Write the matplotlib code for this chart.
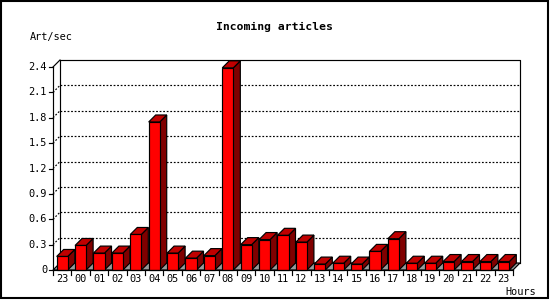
import matplotlib
matplotlib.use("Agg")
import matplotlib.pyplot as plt
from matplotlib.patches import Polygon, Rectangle

hours = ["23", "00", "01", "02", "03", "04", "05", "06", "07", "08", "09", "10",
         "11", "12", "13", "14", "15", "16", "17", "18", "19", "20", "21", "22", "23"]
rates = [0.16, 0.29, 0.20, 0.20, 0.42, 1.75, 0.20, 0.14, 0.17, 2.39, 0.30, 0.36,
         0.41, 0.33, 0.07, 0.08, 0.07, 0.22, 0.37, 0.08, 0.08, 0.10, 0.10, 0.10, 0.10]
yticks = [0, 0.3, 0.6, 0.9, 1.2, 1.5, 1.8, 2.1, 2.4]
ytick_labels = ["0", "0.3", "0.6", "0.9", "1.2", "1.5", "1.8", "2.1", "2.4"]

W, H = 550, 300
fig = plt.figure(figsize=(W / 100, H / 100), dpi=100)
fig.patch.set_facecolor("white")

# front plane of the 3d box, in pixels
left, right, bottom, top = 53, 513, 270, 67
ax = fig.add_axes([left / W, (H - bottom) / H, (right - left) / W, (bottom - top) / H])
ax.set_xlim(0, len(hours))
ax.set_ylim(0, 2.4)
ax.axis("off")

# depth offset (7 px right, 7 px up) in data units
DX = 7 / (right - left) * len(hours)
DY = 7 / (bottom - top) * 2.4
n = len(hours)
kw = dict(clip_on=False)
lw = 0.85

# floor
ax.add_patch(Polygon([(0, 0), (n, 0), (n + DX, DY), (DX, DY)], closed=True,
                     facecolor="#999999", edgecolor="black", lw=lw, zorder=1, **kw))
# back wall outline
ax.plot([DX, DX, n + DX, n + DX], [DY, 2.4 + DY, 2.4 + DY, DY], color="black", lw=lw, zorder=2, **kw)
ax.plot([0, DX], [2.4, 2.4 + DY], color="black", lw=lw, zorder=2, **kw)

# dotted grid lines on back wall and diagonals
for v in yticks[1:-1]:
    ax.plot([DX, n + DX], [v + DY, v + DY], color="black", lw=lw, ls=(0, (1.5, 1.5)), zorder=2, **kw)
    ax.plot([0, DX], [v, v + DY], color="black", lw=lw, ls=(0, (1.5, 1.5)), zorder=2, **kw)

# y axis, ticks and labels
ax.plot([0, 0], [0, 2.4], color="black", lw=lw, zorder=5, **kw)
for v, lab in zip(yticks, ytick_labels):
    ax.plot([-4 * n / (right - left), 0], [v, v], color="black", lw=lw, zorder=5, **kw)
    ax.text(-6 * n / (right - left), v, lab, ha="right", va="center",
            family="DejaVu Sans Mono", fontsize=7.4, **kw)

# bars
bw = 0.6
off = 0.2
for i, v in enumerate(rates):
    x0 = i + off
    x1 = x0 + bw
    ax.add_patch(Polygon([(x1, 0), (x1 + DX, DY), (x1 + DX, v + DY), (x1, v)], closed=True,
                         facecolor="#800000", edgecolor="black", lw=lw, zorder=3, **kw))
    ax.add_patch(Polygon([(x0, v), (x1, v), (x1 + DX, v + DY), (x0 + DX, v + DY)], closed=True,
                         facecolor="#c00000", edgecolor="black", lw=lw, zorder=3, **kw))
    ax.add_patch(Rectangle((x0, 0), bw, v, facecolor="#ff0000", edgecolor="black",
                           lw=lw, zorder=4, **kw))

# x axis, ticks and labels
ax.plot([0, n], [0, 0], color="black", lw=lw, zorder=5, **kw)
tick_len = 5 / (bottom - top) * 2.4
for i in range(n + 1):
    ax.plot([i, i], [0, -tick_len], color="black", lw=lw, zorder=5, **kw)
for i, lab in enumerate(hours):
    ax.text(i + 0.5, -9.5 / (bottom - top) * 2.4, lab, ha="center", va="center",
            family="DejaVu Sans Mono", fontsize=7.4, **kw)

# texts
fig.text(274 / W, 1 - 27 / H, "Incoming articles", ha="center", va="center",
         family="DejaVu Sans Mono", fontweight="bold", fontsize=8.2)
fig.text(30 / W, 1 - 37 / H, "Art/sec", ha="left", va="center",
         family="DejaVu Sans Mono", fontsize=7.4)
fig.text(505 / W, 1 - 292 / H, "Hours", ha="left", va="center",
         family="DejaVu Sans Mono", fontsize=7.4)

# outer border
fig.add_artist(Rectangle((0.5 / W, 1 - 297.5 / H), 547 / W, 297 / H, transform=fig.transFigure,
                         fill=False, edgecolor="black", lw=1.5))

fig.savefig("out.png", dpi=100)
